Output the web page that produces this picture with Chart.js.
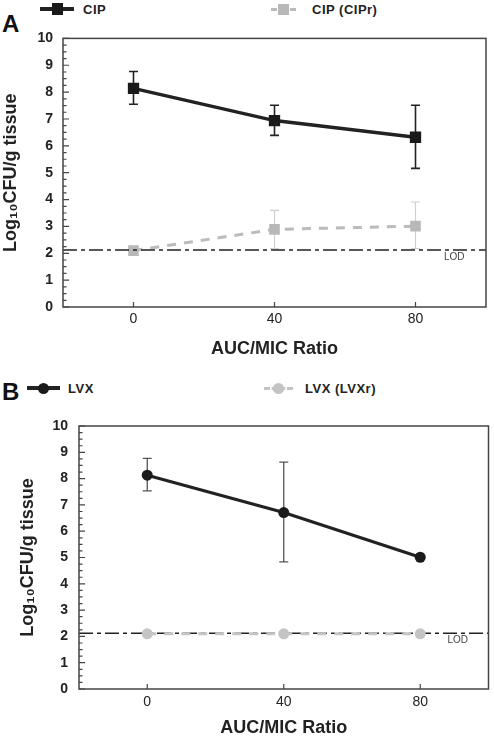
<!DOCTYPE html>
<html>
<head>
<meta charset="utf-8">
<script src="https://cdn.jsdelivr.net/npm/chart.js@4.4.1/dist/chart.umd.min.js"></script>
<style>
  body { margin: 0; background: #fff; width: 494px; height: 739px; position: relative; overflow: hidden;
         font-family: "Liberation Sans", Arial, sans-serif; }
  canvas { position: absolute; left: 0; }
  .letter { position: absolute; font-size: 24px; font-weight: bold; line-height: 1; color: #111; }
  .leg { position: absolute; font-size: 13px; font-weight: bold; letter-spacing: 0.5px; line-height: 1; color: #222; white-space: nowrap; }
  .mk { position: absolute; }
</style>
</head>
<body>

<div class="letter" style="left:2px;top:12px">A</div>
<div class="mk" style="left:40px;top:7px;width:34px;height:4px;background:#222"></div>
<div class="mk" style="left:52px;top:3px;width:11px;height:12px;background:#1a1a1a"></div>
<div class="leg" style="left:83px;top:3px">CIP</div>
<div class="mk" style="left:271px;top:8px;width:25px;height:0;border-top:3px dashed #bbb"></div>
<div class="mk" style="left:278px;top:4px;width:11px;height:11px;background:#b8b8b8"></div>
<div class="leg" style="left:312px;top:3px">CIP (CIPr)</div>
<canvas id="chartA" width="494" height="340" style="top:20px"></canvas>

<div class="letter" style="left:2px;top:380px">B</div>
<div class="mk" style="left:27px;top:386px;width:33px;height:4px;background:#222"></div>
<div class="mk" style="left:38px;top:383px;width:11px;height:11px;border-radius:50%;background:#1a1a1a"></div>
<div class="leg" style="left:68px;top:382px">LVX</div>
<div class="mk" style="left:264px;top:387px;width:29px;height:0;border-top:3px dashed #c4c4c4"></div>
<div class="mk" style="left:273px;top:383px;width:11px;height:11px;border-radius:50%;background:#c4c4c4"></div>
<div class="leg" style="left:305px;top:382px">LVX (LVXr)</div>
<canvas id="chartB" width="494" height="369" style="top:370px"></canvas>

<script>
// data
const aucMic = [0, 40, 80]
const xTicks = [0, 40, 80]

const cipMean = [8.14, 6.94, 6.32]
const cipHigh = [8.77, 7.51, 7.51]
const cipLow = [7.55, 6.39, 5.16]

const ciprMean = [2.1, 2.89, 3.01]
const ciprHigh = [null, 3.6, 3.91]
const ciprLow = [null, 2.17, 2.17]

const lvxMean = [8.13, 6.71, 5.01]
const lvxHigh = [8.77, 8.63, null]
const lvxLow = [7.53, 4.83, null]

const lvxrMean = [2.1, 2.1, 2.1]

const lodValue = 2.12
const lodLabel = 'LOD'
const lodLabelX = 91

const xMin = -20, xMax = 100
const yMin = 0, yMax = 10

const FONT = '"Liberation Sans", Arial, sans-serif'
Chart.defaults.font.family = FONT
Chart.defaults.color = '#222'

const pts = (ys) => aucMic.map((x, i) => ({x, y: ys[i]}))

// error bars drawn under the markers
const errorBars = {
	id: 'errorBars',
	beforeDatasetsDraw(chart) {
		const {ctx, scales: {x, y}} = chart
		chart.data.datasets.forEach(ds => {
			if (!ds.errHigh) return
			ctx.save()
			ctx.strokeStyle = ds.errColor
			ctx.lineWidth = ds.errWidth
			aucMic.forEach((v, i) => {
				if (ds.errHigh[i] == null) return
				const px = x.getPixelForValue(v)
				const top = y.getPixelForValue(ds.errHigh[i])
				const bot = y.getPixelForValue(ds.errLow[i])
				ctx.beginPath()
				ctx.moveTo(px, top); ctx.lineTo(px, bot)
				ctx.moveTo(px - 4.5, top); ctx.lineTo(px + 4.5, top)
				ctx.moveTo(px - 4.5, bot); ctx.lineTo(px + 4.5, bot)
				ctx.stroke()
			})
			ctx.restore()
		})
	}
}

// box, inward ticks, LOD text
const frame = {
	id: 'frame',
	afterDraw(chart) {
		const {ctx, chartArea: a, scales: {x, y}} = chart
		ctx.save()
		ctx.strokeStyle = '#444'
		ctx.lineWidth = 1.5
		ctx.strokeRect(a.left, a.top, a.right - a.left, a.bottom - a.top)
		ctx.beginPath()
		const major = y.ticks.map(t => t.value)
		major.forEach((v, i) => {
			const py = y.getPixelForValue(v)
			ctx.moveTo(a.left, py); ctx.lineTo(a.left + 6, py)
			if (i < major.length - 1) {
				for (let k = 1; k < 4; k++) {
					const my = y.getPixelForValue(v + (major[i + 1] - v) * k / 4)
					ctx.moveTo(a.left, my); ctx.lineTo(a.left + 3.5, my)
				}
			}
		})
		x.ticks.forEach(t => {
			const px = x.getPixelForValue(t.value)
			ctx.moveTo(px, a.bottom); ctx.lineTo(px, a.bottom - 5)
		})
		ctx.lineWidth = 1.2
		ctx.stroke()

		ctx.fillStyle = '#444'
		ctx.font = '10px ' + FONT
		ctx.textAlign = 'center'
		ctx.textBaseline = 'middle'
		ctx.fillText(lodLabel, x.getPixelForValue(lodLabelX), y.getPixelForValue(lodValue) + 7)
		ctx.restore()
	}
}

const lodDataset = () => ({
	label: 'LOD',
	data: [{x: xMin, y: lodValue}, {x: xMax, y: lodValue}],
	borderColor: '#222', borderWidth: 1.5, borderDash: [14, 4, 4, 4],
	pointRadius: 0, order: 2
})

function makeChart(id, datasets, pad, yWidth, xHeight, yTitlePad, xTickPad, yTickPad) {
	return new Chart(document.getElementById(id), {
		type: 'line',
		data: {datasets},
		options: {
			responsive: false,
			animation: false,
			devicePixelRatio: 1,
			layout: {padding: pad},
			plugins: {legend: {display: false}, tooltip: {enabled: false}},
			scales: {
				x: {
					type: 'linear', min: xMin, max: xMax,
					afterBuildTicks: s => { s.ticks = xTicks.map(v => ({value: v})) },
					afterFit: s => { s.height = xHeight },
					grid: {display: false, drawTicks: false},
					border: {display: false},
					ticks: {padding: xTickPad, font: {size: 14}, color: '#222', maxRotation: 0},
					title: {display: true, text: 'AUC/MIC Ratio', font: {size: 18, weight: 'bold'}, color: '#222', padding: 0}
				},
				y: {
					min: yMin, max: yMax,
					afterFit: s => { s.width = yWidth },
					grid: {display: false, drawTicks: false},
					border: {display: false},
					ticks: {stepSize: 1, padding: yTickPad, font: {size: 14, weight: 'bold'}, color: '#222'},
					title: {display: true, text: 'Log\u2081\u2080CFU/g tissue', font: {size: 18, weight: 'bold'}, color: '#222',
						padding: {top: yTitlePad, bottom: 0}}
				}
			}
		},
		plugins: [errorBars, frame]
	})
}

makeChart('chartA', [
	{
		label: 'CIP', data: pts(cipMean),
		borderColor: '#222', borderWidth: 3.5,
		pointStyle: 'rect', pointRadius: 8, pointBackgroundColor: '#1a1a1a', pointBorderWidth: 0,
		errHigh: cipHigh, errLow: cipLow, errColor: '#222', errWidth: 1.6, order: 0
	},
	{
		label: 'CIP (CIPr)', data: pts(ciprMean),
		borderColor: '#bbb', borderWidth: 3, borderDash: [9, 8],
		pointStyle: 'rect', pointRadius: 7.5, pointBackgroundColor: '#b8b8b8', pointBorderWidth: 0,
		errHigh: ciprHigh, errLow: ciprLow, errColor: '#cfcfcf', errWidth: 1.2, order: 3
	},
	lodDataset()
], {left: 0, right: 5, top: 15, bottom: 0}, 63, 53, 0, 4, 10)

makeChart('chartB', [
	{
		label: 'LVX', data: pts(lvxMean),
		borderColor: '#222', borderWidth: 3.2,
		pointStyle: 'circle', pointRadius: 5.5, pointBackgroundColor: '#1a1a1a', pointBorderWidth: 0,
		errHigh: lvxHigh, errLow: lvxLow, errColor: '#555', errWidth: 1.3, order: 0
	},
	{
		label: 'LVX (LVXr)', data: pts(lvxrMean),
		borderColor: '#c4c4c4', borderWidth: 3, borderDash: [9, 8],
		pointStyle: 'circle', pointRadius: 5.5, pointBackgroundColor: '#c4c4c4', pointBorderWidth: 0,
		order: 1
	},
	lodDataset()
], {left: 0, right: 5, top: 56, bottom: 0}, 79, 50, 17, 5, 11)
</script>
</body>
</html>
